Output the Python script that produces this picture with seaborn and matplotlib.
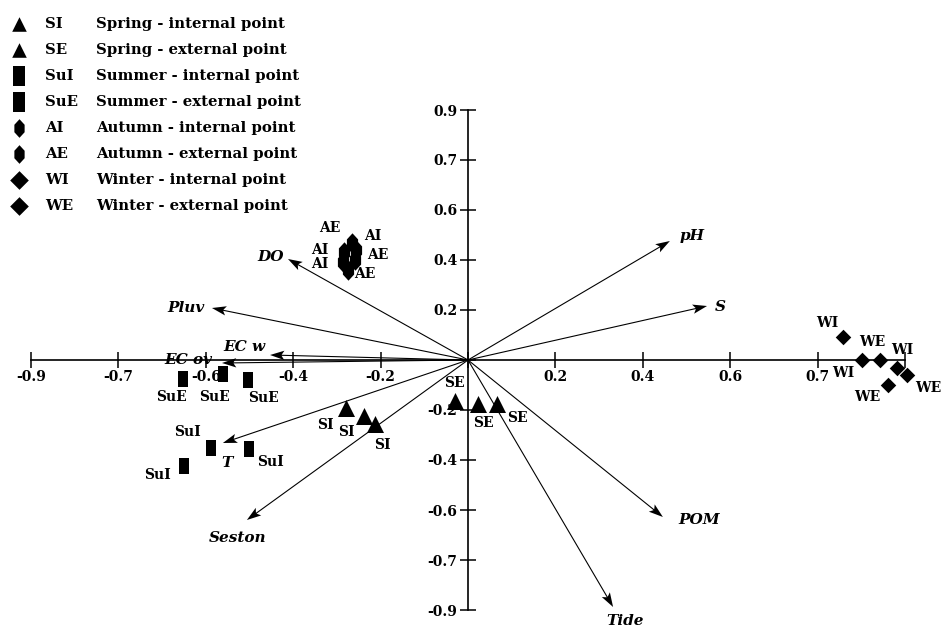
import numpy as np
import pandas as pd
import matplotlib.pyplot as plt
from matplotlib.markers import MarkerStyle
import seaborn as sns

# ---- sample scores (one tick step on the axes = 0.2 units) ----
spring_x = [-0.279, -0.238, -0.213, -0.030, 0.023, 0.066]
spring_y = [-0.192, -0.224, -0.256, -0.164, -0.176, -0.176]
spring_codes = ['SI', 'SI', 'SI', 'SE', 'SE', 'SE']

summer_x = [-0.652, -0.561, -0.503, -0.588, -0.501, -0.650]
summer_y = [-0.076, -0.056, -0.080, -0.352, -0.356, -0.424]
summer_codes = ['SuE', 'SuE', 'SuE', 'SuI', 'SuI', 'SuI']

autumn_x = [-0.265, -0.256, -0.284, -0.259, -0.286, -0.275]
autumn_y = [0.468, 0.440, 0.432, 0.400, 0.392, 0.360]
autumn_codes = ['AE', 'AI', 'AI', 'AE', 'AI', 'AE']

winter_x = [0.858, 0.902, 0.943, 0.982, 1.005, 0.961]
winter_y = [0.092, 0.000, 0.000, -0.032, -0.060, -0.100]
winter_codes = ['WI', 'WI', 'WE', 'WI', 'WE', 'WE']

# ---- environmental vectors ----
env_names = ['pH', 'S', 'POM', 'Tide', 'Seston', 'T', 'DO', 'Pluv', 'EC w', 'EC ov']
env_x = [0.462, 0.547, 0.446, 0.332, -0.506, -0.561, -0.412, -0.586, -0.453, -0.563]
env_y = [0.476, 0.216, -0.628, -0.988, -0.640, -0.332, 0.404, 0.208, 0.020, -0.012]

# ---- axis tick labels (as printed on the original) ----
x_tick_labels = ['-0.9', '-0.7', '-0.6', '-0.4', '-0.2', '', '0.2', '0.4', '0.6', '0.7', '']
y_tick_labels = ['-0.9', '-0.7', '-0.6', '-0.4', '-0.2', '', '0.2', '0.4', '0.6', '0.7', '0.9']

legend_codes = ['SI', 'SE', 'SuI', 'SuE', 'AI', 'AE', 'WI', 'WE']
legend_texts = ['Spring - internal point', 'Spring - external point',
                'Summer - internal point', 'Summer - external point',
                'Autumn - internal point', 'Autumn - external point',
                'Winter - internal point', 'Winter - external point']

# label offsets in pixels (layout only)
spring_off = [(-21, -17), (-18, -16), (8, -21), (0, 18), (5, -19), (21, -14)]
summer_off = [(-12, -18), (-8, -23), (15, -18), (-24, 16), (21, -13), (-26, -9)]
autumn_off = [(-22, 15), (17, 14), (-24, 2), (23, 5), (-23, -2), (17, -4)]
winter_off = [(-16, 14), (-19, -13), (-8, 18), (5, 18), (21, -13), (-21, -12)]
env_off = [(22, 5), (13, -1), (36, -3), (12, -14), (-9, -18), (4, -20),
           (-17, 2), (-26, 0), (-26, 8), (-34, 3)]

sns.set_style("white")
plt.rcParams['font.family'] = ['DejaVu Serif']
plt.rcParams['font.weight'] = 'bold'
plt.rcParams['text.color'] = 'black'
plt.rcParams['xtick.color'] = 'black'
plt.rcParams['ytick.color'] = 'black'

tri = MarkerStyle('^')
rect = MarkerStyle([(-0.33, -0.5), (0.33, -0.5), (0.33, 0.5), (-0.33, 0.5)])
oval = MarkerStyle([(0, 1), (0.55, 0.4), (0.55, -0.4), (0, -1), (-0.55, -0.4), (-0.55, 0.4)])
diam = MarkerStyle([(0, 1), (1, 0), (0, -1), (-1, 0)])

fig = plt.figure(figsize=(9.43, 6.28), dpi=100)
ax = fig.add_axes([0, 0, 1, 1])

# vectors
ax.quiver(np.zeros(len(env_x)), np.zeros(len(env_x)), env_x, env_y,
          angles='xy', scale_units='xy', scale=1, units='dots', width=1.1,
          headwidth=8.5, headlength=13, headaxislength=10.5, color='black', zorder=2)
for name, x, y, off in zip(env_names, env_x, env_y, env_off):
    ax.annotate(name, (x, y), xytext=off, textcoords='offset pixels',
                ha='center', va='center', fontsize=11, style='italic', fontweight='bold')

groups = [
    (spring_x, spring_y, spring_codes, spring_off, tri, 150),
    (summer_x, summer_y, summer_codes, summer_off, rect, 117),
    (autumn_x, autumn_y, autumn_codes, autumn_off, oval, 215),
    (winter_x, winter_y, winter_codes, winter_off, diam, 125),
]
for gx, gy, codes, offs, mk, size in groups:
    df = pd.DataFrame({'x': gx, 'y': gy})
    sns.scatterplot(data=df, x='x', y='y', marker=mk, s=size, color='black',
                    edgecolor='black', linewidth=0, zorder=3, ax=ax)
    for c, x, y, off in zip(codes, gx, gy, offs):
        ax.annotate(c, (x, y), xytext=off, textcoords='offset pixels',
                    ha='center', va='center', fontsize=10, fontweight='bold')

# axes crossing at the origin
ticks = np.round(np.arange(-1.0, 1.01, 0.2), 1)
ax.set_xlim(-1.071, 1.087)
ax.set_ylim(-1.072, 1.44)
for side in ['top', 'right']:
    ax.spines[side].set_visible(False)
for side in ['left', 'bottom']:
    ax.spines[side].set_position(('data', 0))
    ax.spines[side].set_bounds(-1, 1)
    ax.spines[side].set_linewidth(1.2)
    ax.spines[side].set_color('black')
ax.set_xticks(ticks)
ax.set_xticklabels(x_tick_labels)
ax.set_yticks(ticks)
ax.set_yticklabels(y_tick_labels)
ax.tick_params(direction='inout', length=11, width=1.1, color='black',
               labelcolor='black', labelsize=10, pad=2, bottom=True, left=True)
ax.set_xlabel('')
ax.set_ylabel('')

# legend block, top-left
W, H = 943, 628
leg_markers = [(tri, 110), (tri, 110), (rect, 190), (rect, 190),
               (oval, 180), (oval, 180), (diam, 180), (diam, 180)]
for i, (code, text) in enumerate(zip(legend_codes, legend_texts)):
    py = 24 + 26 * i
    mk, size = leg_markers[i]
    ax.scatter([19 / W], [1 - py / H], marker=mk, s=size, color='black',
               linewidth=0, transform=ax.transAxes, clip_on=False)
    ax.text(45 / W, 1 - py / H, code, transform=ax.transAxes,
            ha='left', va='center', fontsize=10.75, fontweight='bold')
    ax.text(96 / W, 1 - py / H, text, transform=ax.transAxes,
            ha='left', va='center', fontsize=10.75, fontweight='bold')

plt.savefig('out.png', dpi=100)
